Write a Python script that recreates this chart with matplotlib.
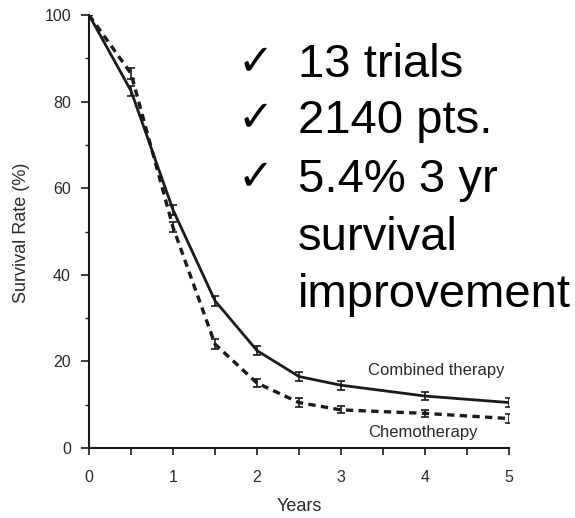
import matplotlib
matplotlib.use("Agg")
import matplotlib.pyplot as plt
from matplotlib.ticker import MultipleLocator

# Survival data (percent alive by year)
years = [0, 0.5, 1, 1.5, 2, 2.5, 3, 4, 5]
combined = [100, 82.5, 55, 34, 22.5, 16.5, 14.5, 12, 10.5]
combined_err = [0, 1.2, 1.2, 1.2, 1.0, 1.0, 1.0, 1.0, 1.0]
chemo = [100, 86.5, 51, 24, 15, 10.5, 8.8, 8, 6.8]
chemo_err = [0, 1.2, 1.2, 1.2, 1.0, 1.0, 0.8, 0.8, 1.0]

x_ticks = [0, 1, 2, 3, 4, 5]
y_ticks = [0, 20, 40, 60, 80, 100]

bullets = ["13 trials", "2140 pts.", "5.4% 3 yr"]
continuation = ["survival", "improvement"]

W, H = 575, 518
fig = plt.figure(figsize=(W / 100, H / 100), dpi=100)
ax = fig.add_axes([89 / W, 1 - 448 / H, (509 - 89) / W, (448 - 15) / H])

ink = "#1a1a1a"
small_font = ["Liberation Sans", "DejaVu Sans"]
label_color = "#2a2a2a"

ax.errorbar(years, combined, yerr=combined_err, color=ink, lw=2.0,
            capsize=3, elinewidth=1.2, capthick=1.2)
ax.errorbar(years, chemo, yerr=chemo_err, color=ink, lw=2.4,
            linestyle=(0, (2.2, 1.6)), capsize=3, elinewidth=1.2, capthick=1.2)

ax.set_xlim(0, 5)
ax.set_ylim(0, 100)
ax.set_xticks(x_ticks)
ax.set_yticks(y_ticks)
ax.xaxis.set_minor_locator(MultipleLocator(0.5))
ax.yaxis.set_minor_locator(MultipleLocator(10))
for side in ("top", "right"):
    ax.spines[side].set_visible(False)
for side in ("left", "bottom"):
    ax.spines[side].set_linewidth(1.5)
    ax.spines[side].set_color(ink)
ax.tick_params(axis="y", which="major", length=6, width=1.2, pad=7, colors=ink)
ax.tick_params(axis="y", which="minor", length=3, width=1.0, colors=ink)
ax.tick_params(axis="x", which="both", length=5, width=1.2, pad=11, colors=ink)
for lab in ax.get_xticklabels() + ax.get_yticklabels():
    lab.set_fontfamily(small_font)
    lab.set_fontsize(11.5)
    lab.set_color(label_color)

ax.set_xlabel("Years", fontsize=13, family=small_font, color=label_color, labelpad=9)
fig.text(22 / W, 1 - 233 / H, "Survival Rate (%)", rotation=90, fontsize=13,
         family=small_font, color=label_color, ha="center", va="center")

ax.text(4.13, 18, "Combined therapy", fontsize=12, family=small_font,
        color=label_color, ha="center", va="center")
ax.text(3.97, 3.5, "Chemotherapy", fontsize=12, family=small_font,
        color=label_color, ha="center", va="center")

# Bullet list on the right
big_font = ["Liberation Sans", "DejaVu Sans"]
baselines = [77, 133, 192, 250, 307]
for i, line in enumerate(bullets + continuation):
    yb = 1 - baselines[i] / H
    fig.text(298 / W, yb, line, fontsize=34, family=big_font,
             color="black", ha="left", va="baseline")
    if i < len(bullets):
        fig.text(238 / W, yb + 3 / H, "\u2713", fontsize=31,
                 family=["DejaVu Sans"], fontweight="bold", color="black",
                 ha="left", va="baseline")

fig.savefig("out.png", dpi=100)
